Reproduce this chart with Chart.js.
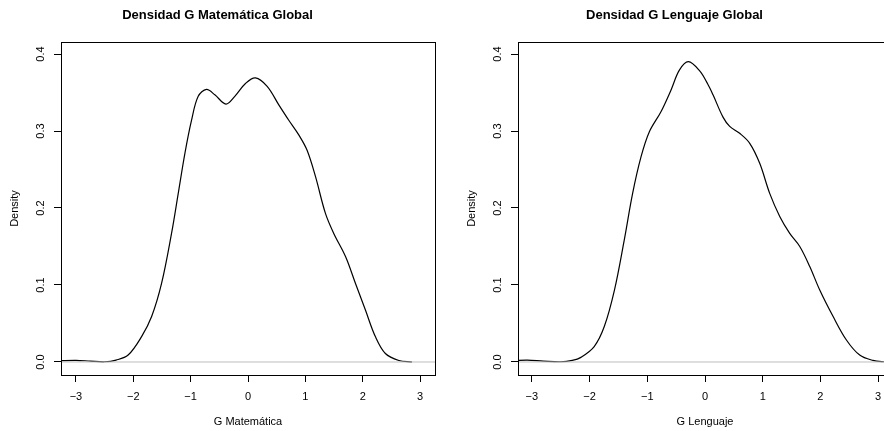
<!DOCTYPE html>
<html>
<head>
<meta charset="utf-8">
<script src="https://cdn.jsdelivr.net/npm/chart.js@4"></script>
<style>
  body { margin: 0; background: #fff; }
  #wrap { position: relative; width: 884px; height: 431px; overflow: hidden; background: #fff; }
  #wrap canvas { position: absolute; top: 0; }
</style>
</head>
<body>
<div id="wrap">
  <canvas id="mat" width="457" height="431" style="left:0;width:457px;height:431px"></canvas>
  <canvas id="len" width="457" height="431" style="left:457px;width:457px;height:431px"></canvas>
</div>
<script>
// density of G Matemática
const matX = [-3.3, -3.0, -2.75, -2.5, -2.3, -2.09, -1.855, -1.68, -1.507, -1.333, -1.216, -1.10, -0.984, -0.868,
	-0.723, -0.578, -0.385, -0.23, -0.04, 0.13, 0.334, 0.537, 0.711, 0.885, 1.03, 1.176, 1.35, 1.495, 1.70, 1.874,
	2.047, 2.22, 2.395, 2.63, 2.86];
const matY = [0.0016, 0.0022, 0.0012, 0.0003, 0.0025, 0.009, 0.033, 0.059, 0.102, 0.167, 0.219, 0.271, 0.314, 0.345,
	0.354, 0.347, 0.335, 0.345, 0.362, 0.369, 0.358, 0.334, 0.314, 0.295, 0.275, 0.241, 0.193, 0.167, 0.137, 0.102,
	0.0675, 0.033, 0.011, 0.002, 0.0];

// density of G Lenguaje
const lenX = [-3.3, -3.08, -2.8, -2.5, -2.3, -2.15, -1.92, -1.745, -1.57, -1.40, -1.254, -1.11, -0.964, -0.763,
	-0.59, -0.444, -0.288, -0.092, 0.047, 0.139, 0.312, 0.428, 0.601, 0.775, 0.948, 1.121, 1.295, 1.468, 1.642,
	1.815, 1.988, 2.22, 2.45, 2.68, 2.91, 3.09, 3.3];
const lenY = [0.0018, 0.0025, 0.0012, 0.0003, 0.002, 0.006, 0.020, 0.046, 0.093, 0.158, 0.219, 0.266, 0.299, 0.325,
	0.353, 0.379, 0.390, 0.378, 0.361, 0.347, 0.318, 0.306, 0.297, 0.284, 0.258, 0.219, 0.189, 0.167, 0.150,
	0.124, 0.0935, 0.059, 0.0286, 0.009, 0.002, 0.0003, 0.0];

const xTicks = [-3, -2, -1, 0, 1, 2, 3];
const yTicks = [0, 0.1, 0.2, 0.3, 0.4];

const FONT = '"Liberation Sans", Arial, Helvetica, sans-serif';

// box around the plot region and the vertical y tick labels, like base R
const rBox = {
	id: 'rBox',
	afterDraw(chart) {
		const { ctx, chartArea: a, scales: { y } } = chart;
		ctx.save();
		ctx.strokeStyle = '#000';
		ctx.lineWidth = 1;
		const l = Math.round(a.left) + 0.5, t = Math.round(a.top) + 0.5;
		ctx.strokeRect(l, t, Math.round(a.right) - Math.round(a.left), Math.round(a.bottom) - Math.round(a.top));
		ctx.fillStyle = '#000';
		ctx.font = '11px ' + FONT;
		ctx.textAlign = 'center';
		ctx.textBaseline = 'middle';
		yTicks.forEach(v => {
			ctx.save();
			ctx.translate(41, y.getPixelForValue(v));
			ctx.rotate(-Math.PI / 2);
			ctx.fillText(v.toFixed(1), 0, 0);
			ctx.restore();
		});
		ctx.restore();
	}
};

function makeChart(id, title, xTitle, xs, ys, xMin, xMax) {
	const ctx = document.getElementById(id).getContext('2d');
	return new Chart(ctx, {
		type: 'line',
		data: {
			datasets: [
				{
					data: [{ x: xMin, y: 0 }, { x: xMax, y: 0 }],
					borderColor: '#BEBEBE',
					borderWidth: 1,
					pointRadius: 0,
					order: 0
				},
				{
					data: xs.map((x, i) => ({ x: x, y: ys[i] })),
					borderColor: '#000',
					borderWidth: 1.2,
					pointRadius: 0,
					tension: 0.35,
					order: 1
				}
			]
		},
		options: {
			responsive: false,
			animation: false,
			events: [],
			layout: { padding: { left: 0, right: 22, top: 0, bottom: 0 } },
			plugins: {
				legend: { display: false },
				tooltip: { enabled: false },
				title: {
					display: true,
					text: title,
					color: '#000',
					font: { family: FONT, size: 13, weight: 'bold' },
					padding: { top: 7.4, bottom: 19 }
				}
			},
			scales: {
				x: {
					type: 'linear',
					min: xMin,
					max: xMax,
					afterBuildTicks: axis => { axis.ticks = xTicks.map(v => ({ value: v })); },
					afterFit: axis => { axis.height = 56; },
					border: { display: false },
					grid: { drawOnChartArea: false, drawTicks: true, tickLength: 7, color: '#000' },
					ticks: {
						color: '#000',
						padding: 8,
						maxRotation: 0,
						font: { family: FONT, size: 11 },
						callback: v => String(v).replace('-', '\u2212')
					},
					title: {
						display: true,
						text: xTitle,
						color: '#000',
						font: { family: FONT, size: 11 },
						padding: { top: 0, bottom: 2.4 }
					}
				},
				y: {
					min: -0.0169,
					max: 0.4156,
					afterBuildTicks: axis => { axis.ticks = yTicks.map(v => ({ value: v })); },
					afterFit: axis => { axis.width = 61; },
					border: { display: false },
					grid: { drawOnChartArea: false, drawTicks: true, tickLength: 7, color: '#000' },
					ticks: { display: false },
					title: {
						display: true,
						text: 'Density',
						color: '#000',
						font: { family: FONT, size: 11 },
						padding: { top: 8.4, bottom: 0 }
					}
				}
			}
		},
		plugins: [rBox]
	});
}

makeChart('mat', 'Densidad G Matemática Global', 'G Matemática', matX, matY, -3.26, 3.26);
makeChart('len', 'Densidad G Lenguaje Global', 'G Lenguaje', lenX, lenY, -3.24, 3.24);
</script>
</body>
</html>
